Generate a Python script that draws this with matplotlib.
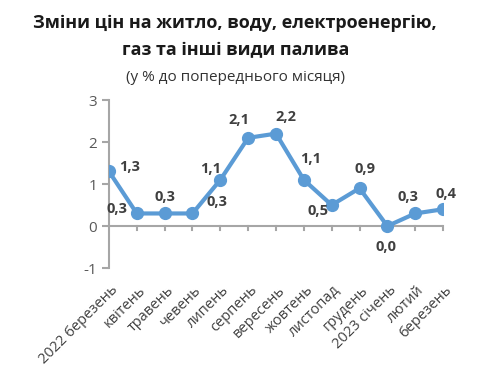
import matplotlib
matplotlib.use("Agg")
import matplotlib.pyplot as plt

months = ["2022 березень", "квітень", "травень", "чевень", "липень", "серпень",
          "вересень", "жовтень", "листопад", "грудень", "2023 січень", "лютий", "березень"]
values = [1.3, 0.3, 0.3, 0.3, 1.1, 2.1, 2.2, 1.1, 0.5, 0.9, 0.0, 0.3, 0.4]
# label offsets in points relative to each marker
offsets = [(15, 3), (-14, 3), (0, 12), (18, 8), (-7, 8), (-7, 13), (7, 12),
           (5, 15), (-10, -4), (4, 14), (-1, -15), (-5, 12), (2, 11)]

plt.rcParams["font.family"] = ["Open Sans", "DejaVu Sans"]
blue = "#5B9BD5"
grey = "#A6A6A6"

fig = plt.figure(figsize=(4.8, 3.76), dpi=100)
ax = fig.add_axes([0.227, 0.287, 0.696, 0.447])

x = list(range(len(values)))
ax.plot(x, values, color=blue, lw=3, marker="o", ms=8.5, zorder=3)
for xi, v, off in zip(x, values, offsets):
    ax.annotate(f"{v:.1f}".replace(".", ","), (xi, v), xytext=off, textcoords="offset points",
                ha="center", va="center", fontsize=10.5, fontweight="bold", color="#404040")

ax.set_xlim(0, 12)
ax.set_ylim(-1, 3)
ax.set_yticks([-1, 0, 1, 2, 3])
ax.set_yticklabels(["-1", "0", "1", "2", "3"], fontsize=11, color="#595959")
for s in ["top", "right", "bottom"]:
    ax.spines[s].set_visible(False)
ax.spines["left"].set_color(grey)
ax.spines["left"].set_linewidth(1.5)
ax.axhline(0, color=grey, lw=1.5, zorder=1)
ax.tick_params(axis="y", length=5, color=grey, width=1.5)
ax.tick_params(axis="x", length=0)
ax.set_xticks(x)
ax.set_xticklabels([])
for xi in x[1:]:
    ax.plot([xi, xi], [0, -0.1], color=grey, lw=1.5, zorder=1, clip_on=False)
for xi, m in zip(x, months):
    ax.text(xi + 0.05, -1.35, m, rotation=45, ha="right", va="top", rotation_mode="anchor",
            fontsize=10.5, color="#404040")

fig.text(0.49, 0.94, "Зміни цін на житло, воду, електроенергію,", ha="center", va="center",
         fontsize=13, fontweight="bold", color="#1a1a1a")
fig.text(0.49, 0.867, "газ та інші види палива", ha="center", va="center",
         fontsize=13, fontweight="bold", color="#1a1a1a")
fig.text(0.49, 0.793, "(у % до попереднього місяця)", ha="center", va="center",
         fontsize=11, color="#333333")

fig.savefig("out.png", dpi=100)
